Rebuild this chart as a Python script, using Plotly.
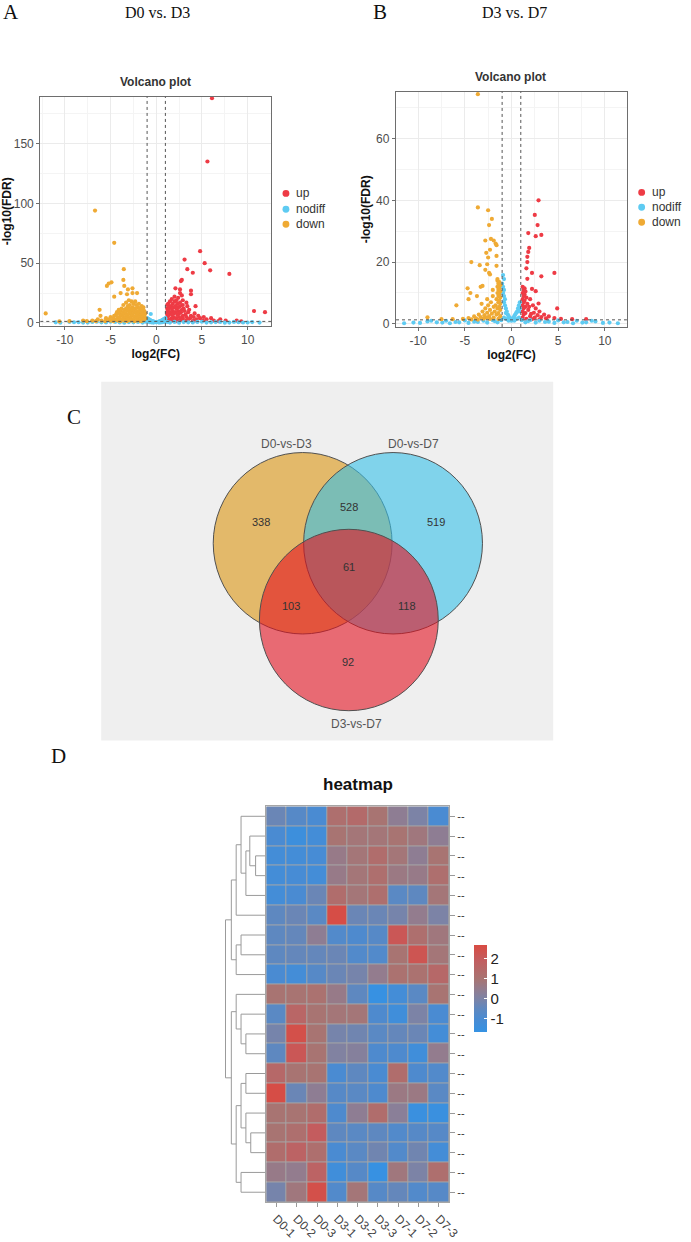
import plotly.graph_objects as go

W, H = 691, 1242
def px(x): return x / W
def py(y): return 1 - y / H

SANS = "Liberation Sans"
SERIF = "Liberation Serif"

# ---------------- Volcano A (D0 vs D3) ----------------
a_up_x = [6.1,5.6,4.8,3.1,5.3,3.4,5.9,8.0,4.0,2.8,2.7,3.8,3.8,2.1,2.6,2.6,2.8,4.3,10.7,11.9,
          2.0,2.4,1.7,2.2,2.9,1.5,2.0,2.6,3.3,1.3,1.8,2.3,2.9,1.2,1.6,2.1,2.6,3.4,1.4,1.9,2.4,3.0,1.2,1.7,2.2,2.8,3.6,1.3,
          1.8,2.4,3.1,1.2,1.6,2.1,2.7,3.5,4.2,1.4,1.9,2.5,3.2,1.2,1.7,2.3,2.9,3.8,4.6,1.3,1.9,2.5,3.3,4.1,5.2,1.2,1.7,2.2,
          2.9,3.7,4.8,6.0,1.4,2.0,2.7,3.5,4.4,5.5,7.0,1.2,1.8,2.5,3.3,4.2,5.1,6.3,7.6,8.8,1.5,2.2,3.0,4.0,6.8,9.3]
a_up_y = [188,135,60,53,50,45,44,41,42,36,35,27,24,29,28,25,23,14,10,9,
          22,21,20,19,19,18,18,17,17,16,16,16,15,15,14,14,14,14,13,13,13,12,12,12,12,11,11,11,
          10,10,10,9,9,9,9,9,8,8,8,8,7,7,7,7,6,6,6,6,5,5,5,5,5,4,4,4,
          4,4,4,4,3,3,3,3,3,3,3,2,2,2,2,2,2,2,2,2,1.5,1.5,1.5,1.5,1.5,1.4]
a_down_x = [-6.7,-4.6,-3.55,-4.9,-5.2,-5.4,-3.6,-3.5,-3.1,-2.6,-2.6,-2.1,-3.9,-4.6,-3.2,-12.1,-6.2,-6.1,
            -3.0,-2.7,-2.3,-3.3,-2.5,-1.9,-3.6,-2.9,-2.2,-1.6,-3.1,-2.6,-2.0,-1.4,-3.8,-3.3,-2.8,-2.3,-1.8,-4.1,-3.5,-3.0,
            -2.5,-1.5,-3.9,-3.2,-2.7,-2.1,-1.7,-1.3,-4.3,-3.6,-2.9,-2.4,-1.9,-1.4,-4.0,-3.4,-2.8,-2.2,-1.6,-1.2,-4.4,-3.7,
            -3.1,-2.6,-2.0,-1.5,-4.6,-3.9,-3.3,-2.7,-2.2,-1.8,-1.3,-5.0,-4.2,-3.6,-3.0,-2.4,-1.9,-1.4,-5.5,-4.7,-4.0,-3.4,
            -2.8,-2.1,-1.6,-1.2,-6.4,-5.2,-4.4,-3.7,-3.1,-2.5,-1.8,-1.3,-8.0,-7.0,-6.0,-5.0,-4.2,-3.5,-2.8,-2.1,-1.5,
            -9.5,-7.6,-6.6,-5.6,-4.7,-3.9,-3.2,-2.4,-1.7,-10.6]
a_down_y = [94,67,45,34,33,31,36,31,28,29,25,25,25,22,24,8,11,6,
            19,18,18,17,16,16,15,15,15,14,14,13,13,13,12,12,12,12,12,11,11,11,
            11,11,10,10,10,10,10,10,9,9,9,9,9,9,8,8,8,8,8,8,7,7,
            7,7,7,7,6,6,6,6,6,6,6,5,5,5,5,5,5,5,4,4,4,4,
            4,4,4,4,3,3,3,3,3,3,3,3,2,2,2,2,2,2,2,2,2,
            1.6,1.5,1.5,1.5,1.5,1.5,1.5,1.5,1.5,1.4]
a_nd_x = [-1.0,-0.9,-0.8,-0.7,-0.6,-0.5,-0.4,-0.3,-0.2,-0.1,0.0,0.1,0.2,0.3,0.4,0.5,0.6,0.7,0.8,0.9,1.0,
          -0.9,-0.7,-0.5,-0.3,0.3,0.5,0.7,0.9,-0.6,
          -11,-9,-8,-7,-6,-5,-4,-3,-2,-1.5,1.5,2,3,4,5,6,7,8,9,10,
          -10.5,-9.5,-8.5,-7.5,-6.5,-5.5,-4.5,-3.5,-2.5,-1.2,1.2,2.5,3.5,4.5,5.5,6.5,7.5,8.5,9.5,10.5,11.3]
a_nd_y = [4,3.5,3,2.5,2,1.8,1.5,1.2,1,0.8,0.5,0.8,1,1.2,1.5,1.8,2,2.5,3,3.5,4,
          1,0.6,0.4,0.3,0.3,0.4,0.6,1,7.5,
          0.5,0.6,0.3,0.8,0.5,1,0.4,0.7,0.9,0.3,0.3,0.9,0.7,0.4,1,0.5,0.8,0.3,0.6,0.4,
          0.2,0.9,0.6,0.3,1.1,0.4,0.8,0.2,0.5,1.0,0.9,0.2,0.5,0.9,0.3,0.7,0.2,0.9,0.4,0.7,0.3]

# ---------------- Volcano B (D3 vs D7) ----------------
b_up_x = [2.9,2.5,2.8,1.8,3.2,2.6,1.9,1.8,1.7,1.7,2.2,3.2,4.6,1.6,1.7,2.6,2.2,2.9,4.9,
          1.2,1.4,1.3,1.5,1.2,1.4,1.3,1.6,1.2,1.4,1.3,1.7,1.2,1.5,1.3,1.8,1.2,1.5,1.3,2.0,1.2,1.6,
          2.0,2.3,2.6,1.9,3.0,2.4,2.1,3.5,2.8,4.0,3.2,2.5,4.6,3.7,5.3,6.5,8.0,2.2,3.0]
b_up_y = [40,35.3,32,29.4,28.8,28.4,24.6,23.3,21.7,20,16.5,15.4,16.5,18,14.6,10.6,11.3,6.6,5,
          12,11.5,11,10.5,10,9.5,9,8.5,8,7.5,7,6.5,6,5.5,5,4.5,4,3.5,3,2.5,2,1.6,
          8,6,5,5.5,4,3.6,3.2,3,2.8,2.4,2.2,2,1.9,1.8,1.6,1.5,1.5,1.5,1.45]
b_down_x = [-3.6,-3.6,-2.5,-2.1,-2.4,-2.8,-2.2,-1.9,-1.7,-1.6,-2.7,-2.3,-2.5,-1.6,-4.3,-3.4,-2.6,-2.8,-1.6,-2.3,
            -1.5,-3.3,-4.7,-4.4,-4.6,-5.9,-9.0,-3.1,-2.4,
            -1.5,-1.3,-1.4,-1.2,-1.5,-1.3,-1.4,-1.2,-1.5,-1.3,-1.4,-1.2,-1.6,-1.3,-1.4,-1.2,-1.7,-1.3,-1.5,-1.2,
            -1.8,-1.4,-1.6,-1.2,-1.9,-1.4,
            -2.0,-2.2,-2.5,-1.9,-2.8,-2.3,-3.1,-2.6,-2.1,-3.5,-2.9,-2.4,-4.0,-3.3,-2.7,-4.6,-3.8,-3.0,-2.3,-5.2,
            -6.3,-7.5,-4.3,-3.6,-2.6,-3.2,-2.0,-3.7]
b_down_y = [74.4,37.7,36.8,34,32,27,27.5,27,26,25.5,23,24,21.5,22,20,19,19.3,17.5,18.8,16,
            14.5,12,11.5,10,8,6,2.1,12.3,16.5,
            14,13.5,13,12.5,12,11.5,11,10.5,10,9.5,9,8.5,8,7.5,7,6.5,6,5.5,5,4.5,
            4,3.5,3,2.5,2,1.6,
            9,7,6,5.5,5,4.5,4,3.6,3.3,3,2.8,2.5,2.4,2.2,2,1.9,1.8,1.7,1.6,1.6,
            1.5,1.5,1.45,1.4,8,6.5,11,9]
b_nd_x = [-0.9,-0.8,-1.0,-0.9,-0.8,-0.9,-0.8,-0.7,-0.8,-0.7,-0.6,-0.5,-0.6,-0.4,-0.3,-0.2,-0.1,0.0,
          0.1,0.2,0.3,0.4,0.5,0.6,0.7,0.8,0.9,0.9,0.8,-0.5,-0.3,0.3,0.5,-0.8,0.8,
          -10.5,-9,-8,-7,-6,-5,-4,-3,-2,-1.5,1.5,2,3,4,5,6,7,8,9,10.5,
          -11.5,-9.8,-8.6,-7.4,-6.6,-5.6,-4.6,-3.6,-2.6,-1.8,-1.1,1.1,1.8,2.6,3.6,4.6,5.6,6.6,7.6,8.6,9.8,11.4]
b_nd_y = [15.8,14.5,13,12,11,10,9,8,7,6,5,4,3.5,3,2.5,2,1.5,1,
          1.5,2,2.5,3,3.5,4,5,6,7,5,4,1.5,1,1,1.5,2,2,
          0.4,0.8,0.5,1,0.6,1.1,0.7,1,1.2,0.5,0.5,1.2,1,0.7,1.1,0.6,1,0.5,0.8,0.4,
          0.2,0.3,1.0,0.4,0.2,0.5,0.3,0.6,0.4,0.9,1.2,1.2,0.9,0.4,0.6,0.3,0.5,0.2,0.4,1.0,0.3,0.2]

legend_labels = ["up", "nodiff", "down"]
legend_colors = ["#ee3b45", "#5ecbf2", "#efaa34"]
x_ticks = [-10, -5, 0, 5, 10]
a_y_ticks = [0, 50, 100, 150]
b_y_ticks = [0, 20, 40, 60]

# ---------------- Venn ----------------
venn_sets = ["D0-vs-D3", "D0-vs-D7", "D3-vs-D7"]
venn_counts = [338, 528, 519, 61, 103, 118, 92]

# ---------------- Heatmap ----------------
hm_cols = ["D0-1", "D0-2", "D0-3", "D3-1", "D3-2", "D3-3", "D7-1", "D7-2", "D7-3"]
hm_z = [
    [-0.3, -0.7, -1.0, 1.2, 1.4, 1.0, 0.4, 0.0, -1.0],
    [-1.0, -1.4, -1.2, 1.0, 0.9, 0.9, 1.0, 0.8, 0.4],
    [-1.2, -1.2, -1.1, 0.6, 0.9, 1.3, 0.9, 0.4, 1.0],
    [-1.2, -1.1, -1.2, 0.6, 0.9, 1.2, 0.7, 0.6, 1.2],
    [-1.2, -1.0, -0.3, 1.3, 0.9, 1.2, -0.6, -0.5, 0.9],
    [-0.5, -0.3, -0.6, 2.6, -0.3, -0.3, -0.1, 0.5, 0.0],
    [-0.5, -0.4, 0.4, -0.8, -0.9, -0.7, 2.2, 1.2, 0.8],
    [-0.5, -0.4, -0.4, -0.3, -0.8, -0.8, 1.0, 2.3, 0.9],
    [-1.0, -1.2, -0.7, -0.3, -0.1, 0.5, 1.1, 1.1, 1.5],
    [1.0, 1.0, 1.1, 0.6, -0.5, -1.6, -1.2, -0.6, 1.0],
    [-0.6, 1.6, 1.0, 0.9, 0.9, -0.9, -1.3, 0.0, -1.0],
    [-0.1, 2.5, 1.0, -0.1, -0.2, -0.6, -0.4, -0.3, -1.2],
    [-0.5, 2.2, 1.0, 0.1, 0.2, -0.9, -0.9, -1.3, 0.5],
    [1.5, 1.0, 1.0, -1.0, -0.5, -1.0, 1.3, -0.9, -0.8],
    [2.6, -0.3, 0.4, -0.7, -0.6, -0.9, 0.7, 0.7, -0.6],
    [1.0, 1.0, 1.3, -0.9, 0.4, 1.3, 0.3, -1.5, -1.5],
    [1.0, 1.2, 2.0, -0.5, -0.6, -0.5, -0.8, -0.7, -0.7],
    [1.3, 1.7, 1.2, -1.0, -0.6, -0.2, -0.8, -0.2, -1.2],
    [0.6, 0.5, 1.7, -1.3, -0.7, -1.6, 0.8, 0.0, 1.2],
    [-0.1, 0.8, 2.5, -0.8, 0.9, -0.7, -0.4, -0.8, -0.7],
]
row_labels = ["--"] * 20
cbar_ticks = [-1, 0, 1, 2]
# dendrogram merges: (child_a, child_b, height); new node ids start at 20
dend_merges = [(2, 3, 10), (1, 20, 16), (21, 4, 20), (0, 22, 25), (23, 5, 30), (6, 7, 25), (25, 8, 30),
               (24, 26, 35), (11, 12, 20), (10, 28, 25), (9, 29, 30), (13, 14, 20), (16, 17, 15),
               (15, 32, 20), (31, 33, 25), (18, 19, 25), (34, 35, 30), (30, 36, 35), (27, 37, 41)]

def lbl(v):
    return str(v)  # plain hyphen-minus like the original

fig = go.Figure()

# ---- volcano traces
def add_volcano(xa, ya, sets):
    for (xs, ys), col in zip(sets, legend_colors):
        fig.add_trace(go.Scatter(x=xs, y=ys, mode="markers", xaxis=xa, yaxis=ya, showlegend=False,
                                 marker=dict(size=4.2, color=col, line=dict(width=0)), hoverinfo="skip"))

add_volcano("x", "y", [(a_up_x, a_up_y), (a_nd_x, a_nd_y), (a_down_x, a_down_y)])
add_volcano("x2", "y2", [(b_up_x, b_up_y), (b_nd_x, b_nd_y), (b_down_x, b_down_y)])

def vax(dom, rng, tickvals, minor, title, anchor):
    return dict(domain=dom, range=rng, tickvals=tickvals, ticktext=[lbl(v) for v in tickvals], anchor=anchor,
                showgrid=True, gridcolor="#ebebeb", gridwidth=1,
                minor=dict(showgrid=True, gridcolor="#f4f4f4", tickvals=minor),
                zeroline=False, showline=True, linecolor="#6e6e6e", linewidth=1.3, mirror=True,
                ticks="outside", ticklen=3, tickcolor="#6e6e6e",
                tickfont=dict(size=12, color="#4d4d4d", family=SANS),
                title=dict(text="<b>%s</b>" % title, font=dict(size=12, color="#111", family=SANS), standoff=2))

xminor = [-12.5, -7.5, -2.5, 2.5, 7.5, 12.5]
lay = dict(
    xaxis=vax([px(41), px(276)], [-12.69, 12.58], x_ticks, xminor, "log2(FC)", "y"),
    yaxis=vax([py(327), py(97)], [-2.5, 189.2], a_y_ticks, [25, 75, 125, 175], "-log10(FDR)", "x"),
    xaxis2=vax([px(403), px(638)], [-12.37, 12.37], x_ticks, xminor, "log2(FC)", "y2"),
    yaxis2=vax([py(328), py(92)], [-1.0, 75.2], b_y_ticks, [10, 30, 50, 70], "-log10(FDR)", "x2"),
)

shapes = []
for xr, yr in (("x", "y"), ("x2", "y2")):
    for v in (-1, 1):
        shapes.append(dict(type="line", xref=xr, yref=yr + " domain", x0=v, x1=v, y0=0, y1=1,
                           line=dict(color="#555", width=1, dash="dot")))
    shapes.append(dict(type="line", xref=xr + " domain", yref=yr, x0=0, x1=1, y0=1.3, y1=1.3,
                       line=dict(color="#555", width=1, dash="dot")))

annotations = []
def ann(text, x, y, size, family=SANS, color="#333", xanchor="center", **kw):
    annotations.append(dict(text=text, x=px(x), y=py(y), xref="paper", yref="paper", showarrow=False,
                            xanchor=xanchor, yanchor="middle", font=dict(size=size, family=family, color=color), **kw))

ann("A", 11, 12, 21, SERIF, "#111")
ann("D0 vs. D3", 160, 13, 16, SERIF, "#111")
ann("B", 387, 12, 21, SERIF, "#111")
ann("D3 vs. D7", 524, 13, 16, SERIF, "#111")
ann("<b>Volcano plot</b>", 158, 82, 12, SANS, "#333")
ann("<b>Volcano plot</b>", 520, 77, 12, SANS, "#333")

# custom legends
for lx, ys in ((291, (194, 210, 225)), (653, (193, 208, 223))):
    for lab, col, ly in zip(legend_labels, legend_colors, ys):
        shapes.append(dict(type="circle", xref="paper", yref="paper", x0=px(lx - 3.5), x1=px(lx + 3.5),
                           y0=py(ly + 3.5), y1=py(ly - 3.5), fillcolor=col, line=dict(width=0)))
        ann(lab, lx + 8, ly, 12, SANS, "#333", "left")

# ---- Venn
GB = (103, 563, 383, 743)
shapes.append(dict(type="rect", xref="paper", yref="paper", x0=px(GB[0]), x1=px(GB[1]), y0=py(GB[3]), y1=py(GB[2]),
                   fillcolor="#efefef", line=dict(width=0), layer="below"))
venn_circles = [((308, 545), "rgba(219,149,17,0.6)"), ((400, 545), "rgba(54,191,231,0.6)"),
                ((355, 622), "rgba(227,17,31,0.6)")]
R = 91
for (cx, cy), col in venn_circles:
    shapes.append(dict(type="circle", xref="x3", yref="y3", x0=cx - R, x1=cx + R, y0=cy - R, y1=cy + R,
                       fillcolor=col, line=dict(color="#505050", width=1)))
lay["xaxis3"] = dict(domain=[px(GB[0]), px(GB[1])], range=[GB[0], GB[1]], visible=False, anchor="y3")
lay["yaxis3"] = dict(domain=[py(GB[3]), py(GB[2])], range=[GB[3], GB[2]], visible=False, anchor="x3")
venn_label_pos = [(292, 445), (421, 445), (363, 726)]
for t, (x, y) in zip(venn_sets, venn_label_pos):
    annotations.append(dict(text=t, x=x, y=y, xref="x3", yref="y3", showarrow=False,
                            font=dict(size=12, family=SANS, color="#555")))
venn_num_pos = [(266, 524), (355, 509), (444, 524), (355, 569), (296, 608), (414, 608), (354, 664)]
for n, (x, y) in zip(venn_counts, venn_num_pos):
    annotations.append(dict(text=str(n), x=x, y=y, xref="x3", yref="y3", showarrow=False,
                            font=dict(size=11, family=SANS, color="#333")))
fig.add_trace(go.Scatter(x=[None], y=[None], xaxis="x3", yaxis="y3", showlegend=False))

ann("C", 75, 418, 21, SERIF, "#111")
ann("D", 60, 758, 21, SERIF, "#111")
ann("<b>heatmap</b>", 364, 787, 17, SANS, "#111")

# ---- Heatmap
cs_vals = [(-1.65, "#3592e3"), (-1.0, "#4a8bd2"), (-0.5, "#5e88c0"), (0.0, "#7c83a6"), (0.5, "#937c8e"),
           (1.0, "#a87472"), (2.0, "#c45c5e"), (2.7, "#d94b42")]
zmin, zmax = -1.65, 2.7
colorscale = [[(v - zmin) / (zmax - zmin), c] for v, c in cs_vals]
fig.add_trace(go.Heatmap(z=hm_z, x=hm_cols, y=list(range(len(hm_z))), xaxis="x5", yaxis="y5",
                         colorscale=colorscale, zmin=zmin, zmax=zmax, xgap=1, ygap=1, hoverinfo="skip",
                         colorbar=dict(x=px(482), xanchor="left", y=py(991.5), yanchor="middle",
                                       len=87 / H, thickness=13, outlinewidth=0, xpad=0, ypad=0,
                                       tickvals=cbar_ticks, ticktext=[lbl(v) for v in cbar_ticks],
                                       ticks="inside", tickcolor="white", ticklen=3,
                                       tickfont=dict(size=15, color="#222", family=SANS))))
shapes.append(dict(type="rect", xref="x5 domain", yref="y5 domain", x0=0, x1=1, y0=0, y1=1,
                   fillcolor="#a6a6a6", line=dict(width=0), layer="below"))
lay["xaxis5"] = dict(domain=[px(271), px(457)], anchor="y5", tickangle=45, showgrid=False, zeroline=False,
                     ticks="outside", ticklen=4, tickcolor="#999", showline=True, linecolor="#a6a6a6", mirror=True,
                     tickfont=dict(size=12, color="#444", family=SANS))
lay["yaxis5"] = dict(domain=[py(1206), py(809)], anchor="x5", range=[19.5, -0.5], side="right",
                     tickvals=list(range(20)), ticktext=row_labels, ticks="outside", ticklen=5, tickcolor="#999",
                     showgrid=False, zeroline=False, showline=True, linecolor="#a6a6a6", mirror=True,
                     tickfont=dict(size=11, color="#333", family=SANS))

# ---- Dendrogram
pos = {i: (float(i), 0.0) for i in range(20)}
dx, dy = [], []
for k, (a, b, h) in enumerate(dend_merges):
    (ya, ha), (yb, hb) = pos[a], pos[b]
    dx += [ha, h, h, hb, None]
    dy += [ya, ya, yb, yb, None]
    pos[20 + k] = ((ya + yb) / 2, h)
fig.add_trace(go.Scatter(x=dx, y=dy, mode="lines", xaxis="x4", yaxis="y4", showlegend=False,
                         line=dict(color="#9a9a9a", width=1), hoverinfo="skip"))
lay["xaxis4"] = dict(domain=[px(229), px(270)], range=[41.5, 0], visible=False, anchor="y4")
lay["yaxis4"] = dict(domain=[py(1206), py(809)], range=[19.5, -0.5], visible=False, anchor="x4")

fig.update_layout(width=W, height=H, margin=dict(l=0, r=0, t=0, b=0), paper_bgcolor="white",
                  plot_bgcolor="white", showlegend=False, shapes=shapes, annotations=annotations, **lay)
fig.write_html("out.html")
